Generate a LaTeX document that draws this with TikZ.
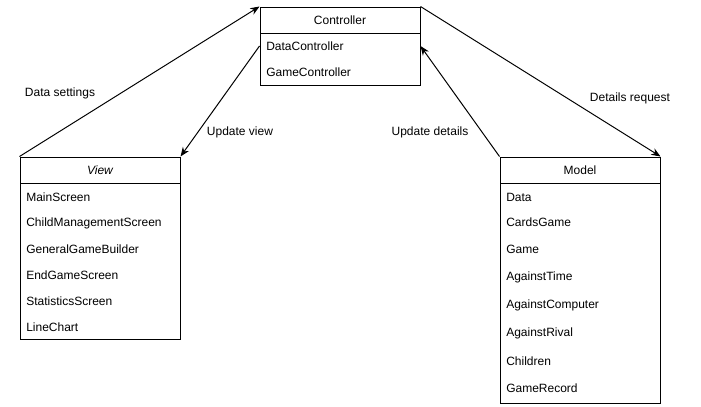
\documentclass[tikz,border=0pt]{standalone}
\usepackage{fontspec}
\setmainfont{Liberation Sans}
\usetikzlibrary{arrows.meta}
\begin{document}
\begin{tikzpicture}[x=0.75pt,y=-0.75pt,
  box/.style={draw,line width=0.75pt,minimum width=120pt,inner sep=0pt},
  item/.style={anchor=west,inner sep=0pt,font=\fontsize{9}{10}\selectfont},
  head/.style={inner sep=0pt,font=\fontsize{9}{10}\selectfont},
  lbl/.style={inner sep=0pt,font=\fontsize{9}{10}\selectfont},
  conn/.style={line width=0.75pt,-{Stealth[length=7pt,width=5.5pt]}}]
\useasboundingbox (0,0) rectangle (701,407);
% Controller
\node[box,minimum height=58.5pt] (ctrl) at (340,46) {};
\draw[line width=0.75pt] (260,33) -- (420,33);
\node[head] (ctrlh) at (340,20) {Controller};
\node[item] (c1) at (266,46) {DataController};
\node[item] (c2) at (266,72) {GameController};
% View
\node[box,minimum height=136.5pt] (view) at (100,248) {};
\draw[line width=0.75pt] (20,183) -- (180,183);
\node[head] (viewh) at (100,170) {\itshape View};
\node[item] (v1) at (26,197) {MainScreen};
\node[item] (v2) at (26,223) {ChildManagementScreen};
\node[item] (v3) at (26,249) {GeneralGameBuilder};
\node[item] (v4) at (26,275) {EndGameScreen};
\node[item] (v5) at (26,301) {StatisticsScreen};
\node[item] (v6) at (26,327) {LineChart};
% Model
\node[box,minimum height=184.5pt] (model) at (580,280) {};
\draw[line width=0.75pt] (500,183) -- (660,183);
\node[head] (modelh) at (580,170) {Model};
\node[item] (m1) at (506,197) {Data};
\node[item] (m2) at (506,222) {CardsGame};
\node[item] (m3) at (506,249) {Game};
\node[item] (m4) at (506,277) {AgainstTime};
\node[item] (m5) at (506,305) {AgainstComputer};
\node[item] (m6) at (506,333) {AgainstRival};
\node[item] (m7) at (506,361) {Children};
\node[item] (m8) at (506,388) {GameRecord};
% connectors
\draw[conn] (view.north west) -- (ctrl.north west);
\draw[conn] (ctrl.west) -- (view.north east);
\draw[conn] (model.north west) -- (ctrl.east);
\draw[conn] (ctrl.north east) -- (model.north east);
% labels
\node[lbl] (l1) at (60,93) {Data settings};
\node[lbl] (l2) at (240,132) {Update view};
\node[lbl] (l3) at (430,132) {Update details};
\node[lbl] (l4) at (630,98) {Details request};
\end{tikzpicture}
\end{document}
